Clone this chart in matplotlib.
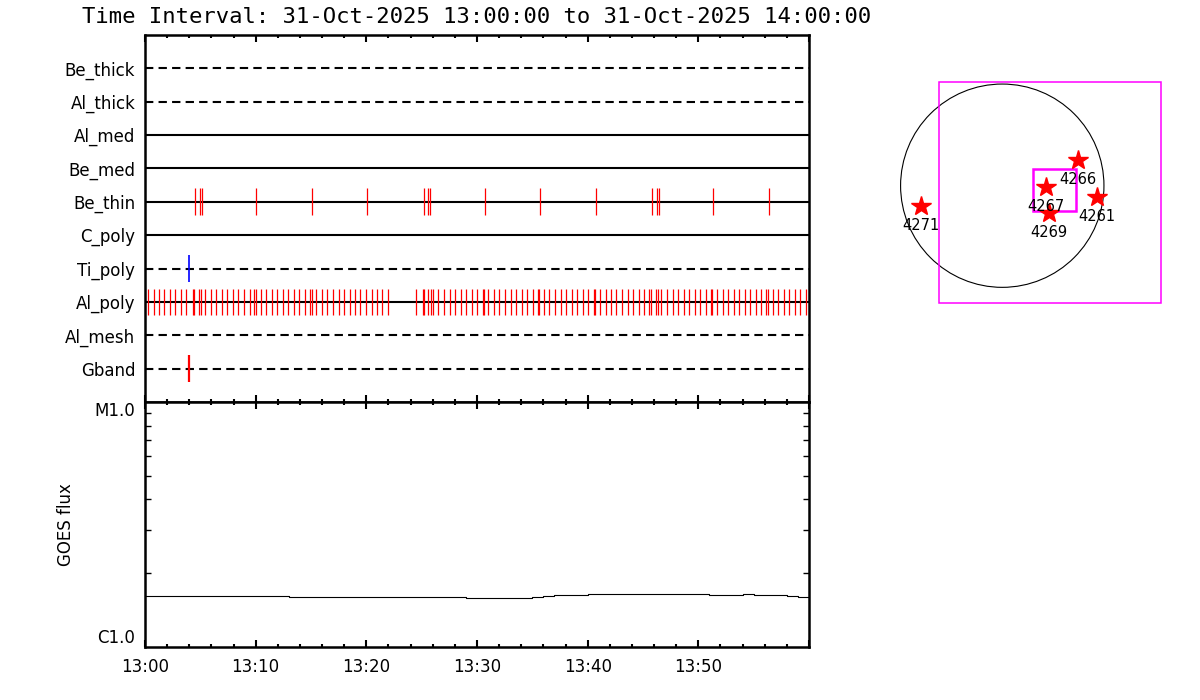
import matplotlib
matplotlib.use("Agg")
import matplotlib.pyplot as plt
from matplotlib.patches import Circle, Rectangle
from matplotlib.ticker import MultipleLocator, FixedLocator, NullFormatter

# --- data (minutes after 13:00) ---
rows = ["Be_thick", "Al_thick", "Al_med", "Be_med", "Be_thin",
        "C_poly", "Ti_poly", "Al_poly", "Al_mesh", "Gband"]
row_dashed = [True, True, False, False, False, False, True, False, True, True]

be_thin_red = [4.55, 5.0, 5.18, 10.06, 15.12, 20.09, 25.24, 25.6, 25.78, 30.75,
               35.72, 40.78, 45.84, 46.29, 46.47, 51.35, 56.41]
ti_poly_blue = [4.0]
gband_red = [3.95]
al_poly_red = [0.24, 0.79, 1.29, 1.74, 2.26, 2.74, 3.25, 3.73, 4.36, 4.46, 4.88, 5.09,
               5.45, 5.94, 6.39, 6.93, 7.44, 7.92, 8.43, 8.95, 9.46, 9.88, 10.06,
               10.45, 10.91, 11.45, 11.93, 12.44, 12.95, 13.44, 13.94, 14.46, 14.95,
               15.05, 15.48, 15.97, 16.47, 16.99, 17.50, 17.98, 18.50, 19.00, 19.45,
               19.94, 20.48, 20.99, 21.44, 21.98, 24.46, 25.12, 25.22, 25.60, 25.82,
               26.05, 26.50, 27.02, 27.53, 28.01, 28.53, 29.03, 29.52, 30.03, 30.52,
               30.62, 31.02, 31.51, 32.01, 32.53, 33.04, 33.55, 34.04, 34.54, 35.06,
               35.52, 35.62, 36.05, 36.53, 37.05, 37.56, 38.04, 38.56, 39.06, 39.55,
               40.00, 40.57, 40.67, 41.14, 41.63, 42.11, 42.59, 43.10, 43.62, 44.09,
               44.61, 45.12, 45.57, 45.68, 46.20, 46.35, 46.62, 47.17, 47.68, 48.16,
               48.67, 49.15, 49.67, 50.18, 50.66, 51.16, 51.26, 51.69, 52.20, 52.68,
               53.19, 53.70, 54.19, 54.69, 55.21, 55.69, 56.15, 56.25, 56.72, 57.20,
               57.71, 58.22, 58.71, 59.21, 59.73]

goes_minutes = list(range(0, 61))
goes_flux = ([1.607e-6] * 13 + [1.592e-6] * 16 + [1.577e-6] * 6 + [1.592e-6, 1.607e-6]
             + [1.622e-6] * 3 + [1.637e-6] * 11 + [1.627e-6] * 3 + [1.637e-6]
             + [1.622e-6] * 3 + [1.607e-6] + [1.592e-6] * 2)

xtick_pos = [0, 10, 20, 30, 40, 50, 60]
xtick_labels = ["13:00", "13:10", "13:20", "13:30", "13:40", "13:50", ""]

# active regions, arcsec
ar_names = ["4266", "4267", "4269", "4261", "4271"]
ar_x = [724, 413, 447, 899, -777]
ar_y = [245, -15, -263, -110, -193]
sun_radius = 968
fov_big = (-605, -1120, 2113, 2110)
fov_small = (295, -238, 404, 400)

title = "Time Interval: 31-Oct-2025 13:00:00 to 31-Oct-2025 14:00:00"

plt.rcParams['font.family'] = ['DejaVu Sans']
W, H = 1200, 700
fig = plt.figure(figsize=(12, 7), dpi=100)

def px_axes(x0, y0, x1, y1):
    return fig.add_axes([x0 / W, 1 - y1 / H, (x1 - x0) / W, (y1 - y0) / H])

def style_x(ax):
    ax.set_xlim(0, 60)
    ax.xaxis.set_major_locator(FixedLocator(xtick_pos))
    ax.xaxis.set_minor_locator(MultipleLocator(2))
    ax.tick_params(axis='x', which='both', direction='in', top=True, bottom=True,
                   width=1.5, labelsize=12, pad=8)
    ax.tick_params(axis='x', which='major', length=5)
    ax.tick_params(axis='x', which='minor', length=2.5)
    for s in ax.spines.values():
        s.set_linewidth(1.8)

# --- top panel: filter rows ---
ax1 = px_axes(145, 35, 809, 402)
style_x(ax1)
ax1.set_ylim(0, 11)
ax1.xaxis.set_major_formatter(NullFormatter())
row_y = [10 - i for i in range(len(rows))]
for y, dashed in zip(row_y, row_dashed):
    ax1.axhline(y, color='black', lw=1.5, ls=(0, (4, 2.5)) if dashed else '-', zorder=2)
ax1.set_yticks(row_y)
ax1.set_yticklabels(rows)
ax1.tick_params(axis='y', length=0, labelsize=12, pad=7)

h = 0.4
yb = row_y[rows.index("Be_thin")]
ax1.vlines(be_thin_red, yb - h, yb + h, color='red', lw=0.9, zorder=3)
yt = row_y[rows.index("Ti_poly")]
ax1.vlines(ti_poly_blue, yt - h, yt + h, color='blue', lw=1.2, zorder=3)
yg = row_y[rows.index("Gband")]
ax1.vlines(gband_red, yg - h, yg + h, color='red', lw=1.6, zorder=3)
ya = row_y[rows.index("Al_poly")]
ax1.vlines(al_poly_red, ya - h, ya + h, color='red', lw=0.9, zorder=3)

# --- GOES panel ---
ax2 = px_axes(145, 402, 809, 646.7)
style_x(ax2)
ax2.set_xticklabels(xtick_labels)
ax2.set_yscale('log')
ax2.set_ylim(1e-6, 1e-5)
ax2.set_yticks([1e-6, 1e-5])
ax2.set_yticklabels(["C1.0", "M1.0"])
ax2.yaxis.set_minor_locator(FixedLocator([k * 1e-6 for k in range(2, 10)]))
ax2.yaxis.set_minor_formatter(NullFormatter())
ax2.tick_params(axis='y', which='both', direction='in', left=True, right=True,
                labelsize=12, pad=7, width=1.0)
ax2.tick_params(axis='y', which='minor', length=4.5)
ax2.tick_params(axis='y', which='major', length=0)
lbls = ax2.get_yticklabels()
lbls[0].set_va('bottom')
lbls[1].set_va('top')
ax2.set_ylabel("GOES flux", fontsize=12, labelpad=14)
ax2.plot(goes_minutes, goes_flux, color='black', lw=0.8, drawstyle='steps-post')

fig.text(477 / W, 1 - 17 / H, title, ha='center', va='center', fontsize=16,
         family=['DejaVu Sans Mono'])

# --- right panel: solar disk ---
ax3 = px_axes(880, 60, 1180, 320)
ax3.set_xlim(-1164, 1692)
ax3.set_ylim(-1279, 1197)
ax3.axis('off')
ax3.add_patch(Circle((0, 0), sun_radius, fill=False, ec='black', lw=0.8))
ax3.add_patch(Rectangle(fov_big[:2], fov_big[2], fov_big[3], fill=False,
                        ec='magenta', lw=1.1))
ax3.add_patch(Rectangle(fov_small[:2], fov_small[2], fov_small[3], fill=False,
                        ec='magenta', lw=1.8))
ax3.plot(ar_x, ar_y, ls='none', marker='*', ms=15, color='red', mec='red')
for name, x, y in zip(ar_names, ar_x, ar_y):
    ax3.annotate(name, (x, y), xytext=(0, -14), textcoords='offset points',
                 ha='center', va='center', fontsize=10.5)

fig.savefig("out.png", dpi=100)
